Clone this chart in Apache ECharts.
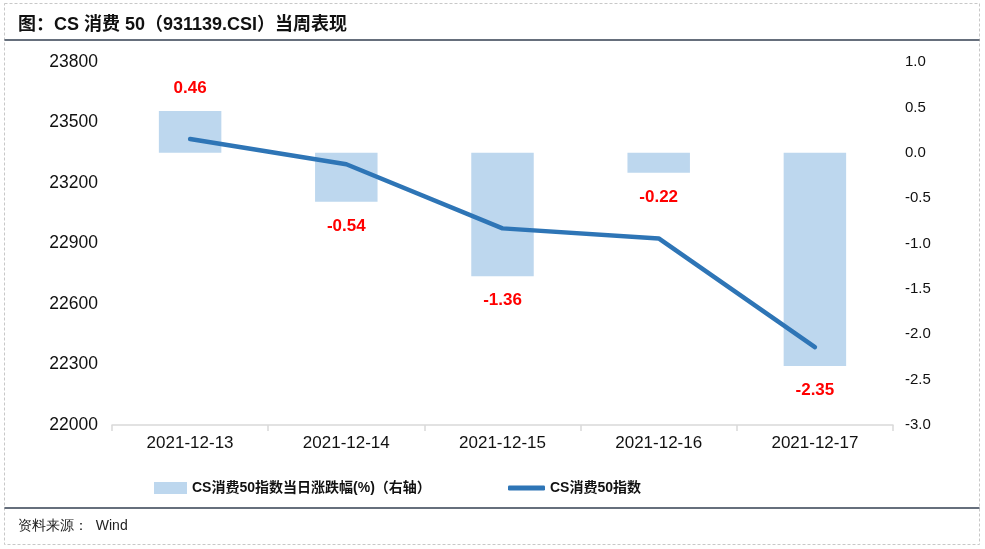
<!DOCTYPE html>
<html>
<head>
<meta charset="utf-8">
<script src="https://cdn.jsdelivr.net/npm/echarts@6/dist/echarts.min.js"></script>
<style>
html,body{margin:0;padding:0;background:#fff;}
#chart{width:985px;height:549px;}
</style>
</head>
<body>
<div id="chart"></div>
<script>
const categories = ['2021-12-13','2021-12-14','2021-12-15','2021-12-16','2021-12-17'];
const dailyChange = [0.46, -0.54, -1.36, -0.22, -2.35];
const indexClose = [23418, 23293, 22975, 22925, 22386];
const barName = 'CS消费50指数当日涨跌幅(%)（右轴）';
const lineName = 'CS消费50指数';
const titleText = '图：CS 消费 50（931139.CSI）当周表现';
const sourceText = '资料来源：  Wind';

const FONT = '"Liberation Sans", Arial, "Noto Sans CJK SC", sans-serif';
const chart = echarts.init(document.getElementById('chart'), null, {renderer:'canvas'});

const barData = dailyChange.map(v => ({
  value: v,
  label: v >= 0 ? { position: 'top', distance: 14 } : { position: 'bottom', distance: 16 }
}));

chart.setOption({
  animation: false,
  backgroundColor: '#fff',
  textStyle: { fontFamily: FONT },
  title: {
    text: titleText,
    left: 13, top: 11,
    textStyle: { fontSize: 18, fontWeight: 'bold', color: '#111', fontFamily: FONT }
  },
  legend: [
    {
      data: [{ name: barName, icon: 'rect' }], left: 149, top: 476,
      itemWidth: 33, itemHeight: 12, itemGap: 0,
      textStyle: { fontSize: 14, fontWeight: 'bold', color: '#111', fontFamily: FONT }
    },
    {
      data: [{ name: lineName, icon: 'roundRect' }], left: 503, top: 476,
      itemWidth: 37, itemHeight: 5,
      textStyle: { fontSize: 14, fontWeight: 'bold', color: '#111', fontFamily: FONT }
    }
  ],
  grid: { left: 112, right: 92, top: 62, bottom: 124, containLabel: false },
  xAxis: {
    type: 'category',
    data: categories,
    axisLine: { show: true, onZero: false, lineStyle: { color: '#d9d9d9', width: 1.5 } },
    axisTick: { show: true, alignWithLabel: false, length: 6, lineStyle: { color: '#d9d9d9', width: 1.5 } },
    axisLabel: { fontSize: 17, color: '#111', margin: 10, fontFamily: FONT },
    splitLine: { show: false }
  },
  yAxis: [
    {
      type: 'value', min: 22000, max: 23800, interval: 300,
      axisLine: { show: false }, axisTick: { show: false }, splitLine: { show: false },
      axisLabel: { fontSize: 17.5, color: '#111', margin: 14, fontFamily: FONT,
        formatter: v => String(v) }
    },
    {
      type: 'value', min: -3, max: 1, interval: 0.5,
      axisLine: { show: false }, axisTick: { show: false }, splitLine: { show: false },
      axisLabel: { fontSize: 15, color: '#111', margin: 12, fontFamily: FONT,
        formatter: v => v.toFixed(1) }
    }
  ],
  series: [
    {
      name: barName, type: 'bar', yAxisIndex: 1, data: barData,
      barWidth: '40%',
      itemStyle: { color: '#BDD7EE' },
      label: { show: true, fontSize: 17, fontWeight: 'bold', color: '#ff0000',
        fontFamily: FONT, formatter: p => p.value.toFixed(2) }
    },
    {
      name: lineName, type: 'line', yAxisIndex: 0, data: indexClose,
      showSymbol: false, symbol: 'none',
      lineStyle: { color: '#2E75B6', width: 4.5, cap: 'round', join: 'round' },
      itemStyle: { color: '#2E75B6' },
      z: 5
    }
  ],
  graphic: [
    { type: 'rect', shape: { x: 4.5, y: 3.5, width: 975, height: 541 }, silent: true,
      style: { fill: 'none', stroke: '#c8c8c8', lineWidth: 1, lineDash: [3, 2] } },
    { type: 'line', shape: { x1: 4.5, y1: 40, x2: 979.5, y2: 40 }, silent: true,
      style: { stroke: '#333f50', lineWidth: 1.5 } },
    { type: 'line', shape: { x1: 4.5, y1: 508, x2: 979.5, y2: 508 }, silent: true,
      style: { stroke: '#333f50', lineWidth: 1.5 } },
    { type: 'text', left: 18, top: 519, silent: true,
      style: { text: sourceText, fontSize: 14, fill: '#222', font: '14px ' + FONT } }
  ]
});
</script>
</body>
</html>
